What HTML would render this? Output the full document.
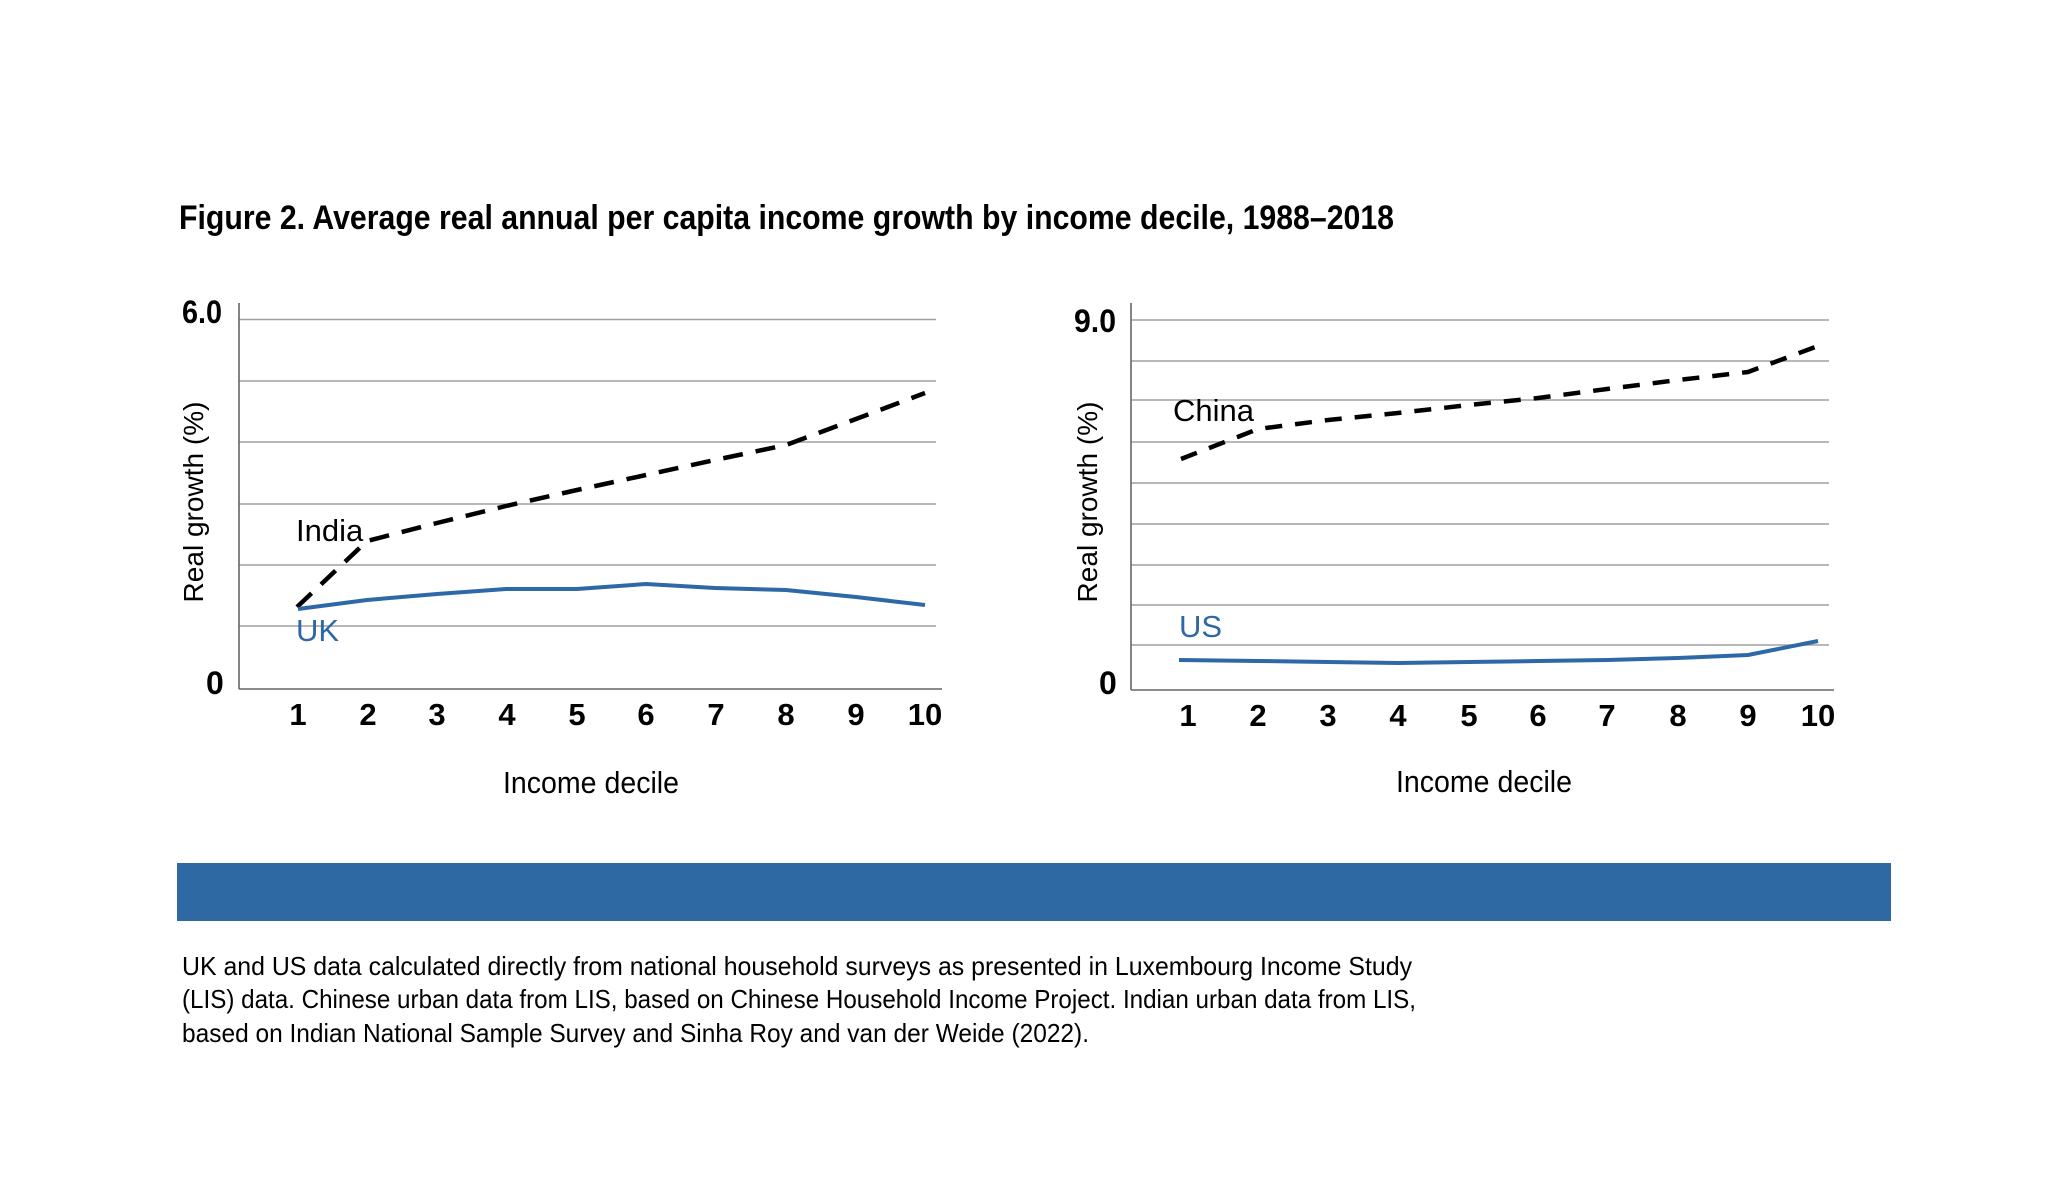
<!DOCTYPE html>
<html><head><meta charset="utf-8"><style>
html,body{margin:0;padding:0;background:#fff;}
svg{display:block;}
.c{font-family:"Liberation Sans Narrow","Liberation Sans",sans-serif;}
.a{font-family:"Liberation Sans",sans-serif;}
</style></head><body>
<svg width="2069" height="1177" viewBox="0 0 2069 1177" xmlns="http://www.w3.org/2000/svg">
<rect width="2069" height="1177" fill="#fff"/>
<text class="c" x="179" y="229" font-size="34" font-weight="bold" textLength="1215" lengthAdjust="spacingAndGlyphs" fill="#000">Figure 2. Average real annual per capita income growth by income decile, 1988–2018</text>

<!-- LEFT CHART -->
<g stroke="#a0a0a0" stroke-width="1.6">
<line x1="239" y1="319.5" x2="936" y2="319.5"/>
<line x1="239" y1="381" x2="936" y2="381"/>
<line x1="239" y1="442" x2="936" y2="442"/>
<line x1="239" y1="504" x2="936" y2="504"/>
<line x1="239" y1="565" x2="936" y2="565"/>
<line x1="239" y1="626" x2="936" y2="626"/>
</g>
<line x1="239" y1="303" x2="239" y2="689" stroke="#666" stroke-width="1.6"/>
<line x1="239" y1="689" x2="942" y2="689" stroke="#666" stroke-width="1.6"/>
<polyline fill="none" stroke="#000" stroke-width="4.5" stroke-dasharray="20,13" points="297,607 367,541 437,523 506,506 577,490 646,475 715,460 786,445 856,419 925,393"/>
<polyline fill="none" stroke="#2f68a6" stroke-width="4" points="298,609 367,600 437,594 506,589 577,589 646,584 715,588 786,590 856,597 925,605"/>
<text class="c" x="296" y="541" font-size="31" fill="#000">India</text>
<text class="c" x="296" y="641" font-size="31" fill="#2f68a6">UK</text>
<text class="c" x="182" y="323" font-size="32" font-weight="bold" textLength="40" lengthAdjust="spacingAndGlyphs">6.0</text>
<text class="c" x="206" y="694" font-size="32" font-weight="bold">0</text>
<g class="c" font-size="31" font-weight="bold" text-anchor="middle">
<text x="298" y="725">1</text><text x="368" y="725">2</text><text x="437" y="725">3</text><text x="507" y="725">4</text><text x="577" y="725">5</text><text x="646" y="725">6</text><text x="716" y="725">7</text><text x="786" y="725">8</text><text x="856" y="725">9</text><text x="925" y="725">10</text>
</g>
<text class="c" x="591" y="793" font-size="31" text-anchor="middle" textLength="176" lengthAdjust="spacingAndGlyphs">Income decile</text>
<text class="a" transform="translate(203,502) rotate(-90)" font-size="28" text-anchor="middle" textLength="201" lengthAdjust="spacingAndGlyphs">Real growth (%)</text>

<!-- RIGHT CHART -->
<g stroke="#a0a0a0" stroke-width="1.6">
<line x1="1131" y1="320" x2="1829" y2="320"/>
<line x1="1131" y1="361" x2="1829" y2="361"/>
<line x1="1131" y1="400" x2="1829" y2="400"/>
<line x1="1131" y1="442" x2="1829" y2="442"/>
<line x1="1131" y1="483" x2="1829" y2="483"/>
<line x1="1131" y1="524" x2="1829" y2="524"/>
<line x1="1131" y1="565" x2="1829" y2="565"/>
<line x1="1131" y1="605" x2="1829" y2="605"/>
<line x1="1131" y1="645" x2="1829" y2="645"/>
</g>
<line x1="1131" y1="303" x2="1131" y2="690" stroke="#666" stroke-width="1.6"/>
<line x1="1131" y1="690" x2="1834" y2="690" stroke="#666" stroke-width="1.6"/>
<polyline fill="none" stroke="#000" stroke-width="4.5" stroke-dasharray="17,13" points="1181,459 1258,429 1328,420 1398,413 1469,405 1538,398 1607,389 1678,380 1748,372 1818,346"/>
<polyline fill="none" stroke="#2f68a6" stroke-width="4" points="1179,660 1258,661 1328,662 1398,663 1469,662 1538,661 1607,660 1678,658 1748,655 1818,641"/>
<text class="c" x="1173" y="421" font-size="31" fill="#000">China</text>
<text class="c" x="1179" y="637" font-size="31" fill="#2f68a6">US</text>
<text class="c" x="1074" y="332" font-size="32" font-weight="bold" textLength="42" lengthAdjust="spacingAndGlyphs">9.0</text>
<text class="c" x="1099" y="694" font-size="32" font-weight="bold">0</text>
<g class="c" font-size="31" font-weight="bold" text-anchor="middle">
<text x="1188" y="726">1</text><text x="1258" y="726">2</text><text x="1328" y="726">3</text><text x="1398" y="726">4</text><text x="1469" y="726">5</text><text x="1538" y="726">6</text><text x="1607" y="726">7</text><text x="1678" y="726">8</text><text x="1748" y="726">9</text><text x="1818" y="726">10</text>
</g>
<text class="c" x="1484" y="792" font-size="31" text-anchor="middle" textLength="176" lengthAdjust="spacingAndGlyphs">Income decile</text>
<text class="a" transform="translate(1097,502) rotate(-90)" font-size="28" text-anchor="middle" textLength="201" lengthAdjust="spacingAndGlyphs">Real growth (%)</text>

<!-- BAR + NOTES -->
<rect x="177" y="863" width="1714" height="58" fill="#2f69a3"/>
<g class="c" font-size="26" fill="#000">
<text x="182" y="975" textLength="1230" lengthAdjust="spacingAndGlyphs">UK and US data calculated directly from national household surveys as presented in Luxembourg Income Study</text>
<text x="182" y="1008" textLength="1234" lengthAdjust="spacingAndGlyphs">(LIS) data. Chinese urban data from LIS, based on Chinese Household Income Project. Indian urban data from LIS,</text>
<text x="182" y="1042" textLength="907" lengthAdjust="spacingAndGlyphs">based on Indian National Sample Survey and Sinha Roy and van der Weide (2022).</text>
</g>
</svg>
</body></html>
